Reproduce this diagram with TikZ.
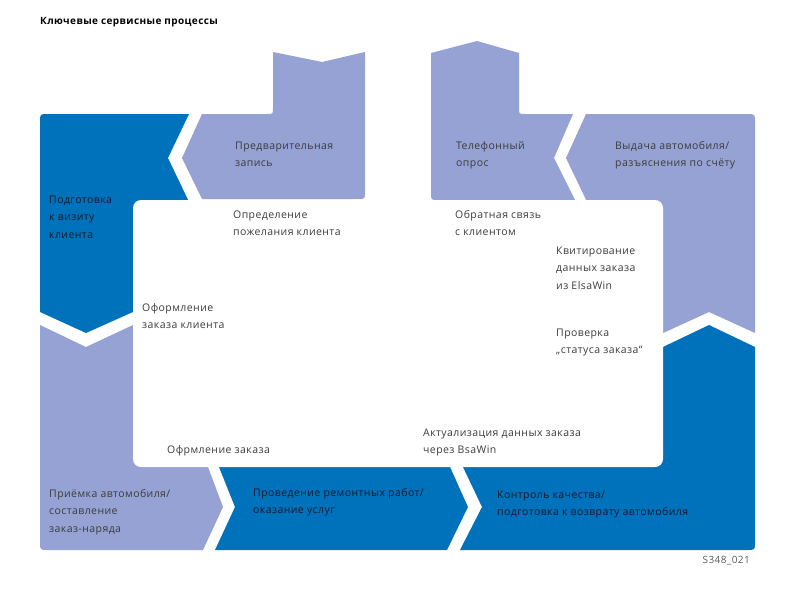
\documentclass[tikz,border=0pt]{standalone}
\usepackage{fontspec}
\setmainfont{Open Sans}[LetterSpace=4]
\definecolor{dblue}{HTML}{0071BB}
\definecolor{lav}{HTML}{95A2D3}
\definecolor{txt}{HTML}{3C3C3C}
\definecolor{txtd}{HTML}{1A1A2A}
\begin{document}
\begin{tikzpicture}[x=1pt,y=-1pt,
  lbl/.style={anchor=base west, inner sep=0pt, align=left, text=txt,
    font=\fontsize{10.5}{17.5}\selectfont},
  dlbl/.style={lbl, text=txtd}]
\useasboundingbox (0,0) rectangle (800,600);
% --- colored frame blocks ---
% Подготовка к визиту клиента
\fill[dblue] (40,122) .. controls (40,114) .. (48,114) -- (189,114) -- (168,158)
  -- (191,206) -- (191,212) -- (145,212) -- (145,306.6) -- (86,333) -- (40,312) -- cycle;
% Предварительная запись
\fill[lav] (273,52) -- (322,62) -- (365,52) -- (365,192) .. controls (365,199) .. (358,199)
  -- (202,199) -- (182,158) -- (202,114) -- (267,114) .. controls (273,114) .. (273,108) -- cycle;
% Телефонный опрос
\fill[lav] (431,53) -- (477,41) -- (519,53) -- (519,108) .. controls (519,114) .. (525,114)
  -- (573,114) -- (554,158) -- (575,200) -- (438,200) .. controls (431,200) .. (431,193) -- cycle;
% Выдача автомобиля
\fill[lav] (586,114) -- (747,114) .. controls (755,114) .. (755,122) -- (755,333)
  -- (709,312) -- (655,336.7) -- (655,205) -- (588.5,205) -- (566,158) -- cycle;
% Контроль качества
\fill[dblue] (460.6,462) -- (655,462) -- (655,350.8) -- (709,325) -- (755,347)
  -- (755,542) .. controls (755,550) .. (747,550) -- (460,550) -- (482,507) -- cycle;
% Проведение ремонтных работ
\fill[dblue] (217,462) -- (447.8,462) -- (468,507) -- (447,550) -- (215,550) -- (235,507) -- cycle;
% Приёмка автомобиля
\fill[lav] (40,325) -- (86,347) -- (145,319.4) -- (145,460) -- (205.4,460) -- (223,507)
  -- (203,550) -- (48,550) .. controls (40,550) .. (40,542) -- cycle;
% inner white field
\fill[white, rounded corners=8pt] (133,200) rectangle (663,467);
% --- texts (anchor = baseline of last line) ---
\node[anchor=base west, inner sep=0pt, font=\bfseries\fontsize{10}{12}\selectfont] (title) at (40,24) {Ключевые сервисные процессы};
\node[lbl] (t1) at (235,166.5) {Предварительная\\запись};
\node[lbl] (t2) at (456,166.5) {Телефонный\\опрос};
\node[lbl] (t3) at (615,166.5) {Выдача автомобиля/\\разъяснения по счёту};
\node[dlbl] (t4) at (49,238) {Подготовка\\к визиту\\клиента};
\node[lbl] (t5) at (233,235.5) {Определение\\пожелания клиента};
\node[lbl] (t6) at (455,235.5) {Обратная связь\\с клиентом};
\node[lbl] (t7) at (556,289) {Квитирование\\данных заказа\\из ElsaWin};
\node[lbl] (t8) at (142,328.5) {Оформление\\заказа клиента};
\node[lbl] (t9) at (556,353.5) {Проверка\\„статуса заказа“};
\node[lbl] (t10) at (167,453) {Офрмление заказа};
\node[lbl] (t11) at (423,453.5) {Актуализация данных заказа\\через BsaWin};
\node[lbl] (t12) at (49,532) {Приёмка автомобиля/\\составление\\заказ-наряда};
\node[dlbl] (t13) at (253,513.5) {Проведение ремонтных работ/\\оказание услуг};
\node[dlbl] (t14) at (497,515.5) {Контроль качества/\\подготовка к возврату автомобиля};
\node[anchor=base east, inner sep=0pt, text=black!65, font=\fontsize{10}{12}\selectfont] (code) at (750,563) {S348\_021};
\end{tikzpicture}
\end{document}
